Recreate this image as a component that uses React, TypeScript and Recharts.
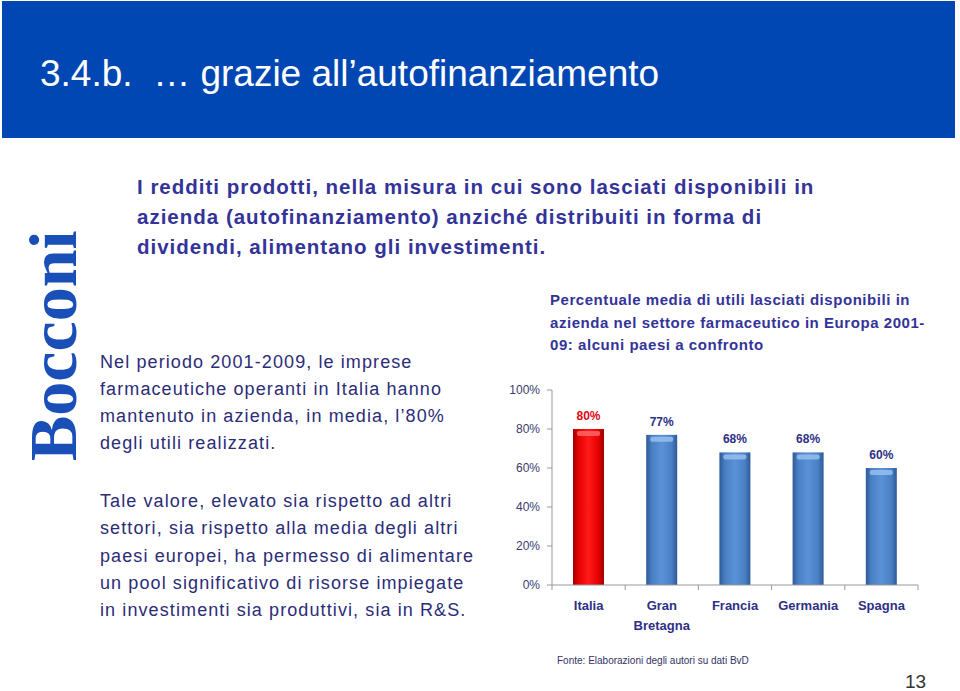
import { Bar, BarChart, Cell, LabelList, XAxis, YAxis } from "recharts";

const countries = ["Italia", "Gran Bretagna", "Francia", "Germania", "Spagna"];
const retained = [0.8, 0.77, 0.68, 0.68, 0.6];
const yTicks = [0, 0.2, 0.4, 0.6, 0.8, 1];

const data = countries.map((name, i) => ({ name, value: retained[i] }));

const NAVY = "#2e2f86";
const TEXT = "#2b2c78";
const CHART_W = 440;
const CHART_H = 270;
const MARGIN = { top: 20, right: 12, left: 0, bottom: 0 };
const Y_W = 62;
const BAND = (CHART_W - MARGIN.left - MARGIN.right - Y_W) / countries.length;

const pct = (v: number) => `${Math.round(v * 100)}%`;

function CountryTick(props: any) {
  const { x, y, payload, index } = props;
  const words: string[] = payload.value.split(" ");
  return (
    <g>
      <line x1={x + BAND / 2} x2={x + BAND / 2} y1={y - 8} y2={y - 3} stroke="#999" />
      {index === 0 && <line x1={x - BAND / 2} x2={x - BAND / 2} y1={y - 8} y2={y - 3} stroke="#999" />}
      <text x={x} y={y + 17} textAnchor="middle" fill={NAVY} fontSize={13} fontWeight="bold">
        {words.map((w, i) => (
          <tspan key={w} x={x} dy={i === 0 ? 0 : 20}>
            {w}
          </tspan>
        ))}
      </text>
    </g>
  );
}

function BevelBar(props: any) {
  const { x, y, width, height, index } = props;
  const grad = index === 0 ? "url(#barRed)" : "url(#barBlue)";
  const hi = index === 0 ? "#ff6b6b" : "#9cc3f0";
  return (
    <g>
      <rect x={x} y={y} width={width} height={height} fill={grad} />
      <rect x={x + 4} y={y + 2} width={width - 8} height={5} rx={2} fill={hi} opacity={0.8} />
    </g>
  );
}

function ValueLabel(props: any) {
  const { x, y, width, value, index } = props;
  return (
    <text
      x={x + width / 2}
      y={y - 9}
      textAnchor="middle"
      fill={index === 0 ? "#e30613" : NAVY}
      fontSize={12}
      fontWeight="bold"
    >
      {pct(value)}
    </text>
  );
}

export default function App() {
  return (
    <div
      style={{
        position: "absolute",
        left: 0,
        top: 0,
        width: 960,
        height: 691,
        background: "#fff",
        fontFamily: "'Liberation Sans', Arial, sans-serif",
        overflow: "hidden",
      }}
    >
      <div style={{ position: "absolute", left: 2, top: 1, width: 953, height: 137, background: "#0047b3" }} />
      <div style={{ position: "absolute", left: 40, top: 53, fontSize: 37, color: "#fff", whiteSpace: "nowrap" }}>
        3.4.b.&nbsp;&nbsp;… grazie all’autofinanziamento
      </div>

      <svg style={{ position: "absolute", left: 0, top: 0 }} width={100} height={691}>
        <text
          transform="translate(76 461) rotate(-90)"
          fontFamily="'Liberation Serif', 'DejaVu Serif', serif"
          fontWeight="bold"
          fontSize={68}
          fill="#1a4fb8"
        >
          Bocconi
        </text>
      </svg>

      <div
        style={{
          position: "absolute",
          left: 137,
          top: 172,
          fontSize: 20.5,
          letterSpacing: 1,
          lineHeight: "30px",
          fontWeight: "bold",
          color: "#333399",
          whiteSpace: "nowrap",
        }}
      >
        I redditi prodotti, nella misura in cui sono lasciati disponibili in
        <br />
        azienda (autofinanziamento) anziché distribuiti in forma di
        <br />
        dividendi, alimentano gli investimenti.
      </div>

      <div
        style={{
          position: "absolute",
          left: 100,
          top: 349,
          fontSize: 18,
          letterSpacing: 1.1,
          lineHeight: "27px",
          color: TEXT,
          whiteSpace: "nowrap",
        }}
      >
        Nel periodo 2001-2009, le imprese
        <br />
        farmaceutiche operanti in Italia hanno
        <br />
        mantenuto in azienda, in media, l’80%
        <br />
        degli utili realizzati.
      </div>

      <div
        style={{
          position: "absolute",
          left: 100,
          top: 488,
          fontSize: 18,
          letterSpacing: 1.1,
          lineHeight: "27.3px",
          color: TEXT,
          whiteSpace: "nowrap",
        }}
      >
        Tale valore, elevato sia rispetto ad altri
        <br />
        settori, sia rispetto alla media degli altri
        <br />
        paesi europei, ha permesso di alimentare
        <br />
        un pool significativo di risorse impiegate
        <br />
        in investimenti sia produttivi, sia in R&amp;S.
      </div>

      <div
        style={{
          position: "absolute",
          left: 550,
          top: 289,
          fontSize: 15,
          letterSpacing: 0.55,
          lineHeight: "22.5px",
          fontWeight: "bold",
          color: "#333399",
          whiteSpace: "nowrap",
        }}
      >
        Percentuale media di utili lasciati disponibili in
        <br />
        azienda nel settore farmaceutico in Europa 2001-
        <br />
        09: alcuni paesi a confronto
      </div>

      <div style={{ position: "absolute", left: 490, top: 370 }}>
        <BarChart width={CHART_W} height={CHART_H} data={data} margin={MARGIN}>
          <defs>
            <linearGradient id="barBlue" x1="0" y1="0" x2="1" y2="0">
              <stop offset="0%" stopColor="#2d5a96" />
              <stop offset="18%" stopColor="#4a7fc4" />
              <stop offset="50%" stopColor="#5a92d8" />
              <stop offset="82%" stopColor="#4a7fc4" />
              <stop offset="100%" stopColor="#2d5a96" />
            </linearGradient>
            <linearGradient id="barRed" x1="0" y1="0" x2="1" y2="0">
              <stop offset="0%" stopColor="#a00000" />
              <stop offset="18%" stopColor="#e60000" />
              <stop offset="50%" stopColor="#ff1a1a" />
              <stop offset="82%" stopColor="#e60000" />
              <stop offset="100%" stopColor="#a00000" />
            </linearGradient>
          </defs>
          <XAxis
            dataKey="name"
            height={55}
            interval={0}
            tickLine={false}
            axisLine={{ stroke: "#999" }}
            tick={<CountryTick />}
          />
          <YAxis
            width={Y_W}
            domain={[0, 1]}
            ticks={yTicks}
            tickFormatter={pct}
            tickSize={5}
            tickMargin={7}
            axisLine={{ stroke: "#999" }}
            tickLine={{ stroke: "#999" }}
            tick={{ fill: "#3b3b70", fontSize: 12 }}
          />
          <Bar dataKey="value" barSize={31} isAnimationActive={false} shape={<BevelBar />}>
            {data.map((d, i) => (
              <Cell key={d.name} fill={i === 0 ? "url(#barRed)" : "url(#barBlue)"} />
            ))}
            <LabelList dataKey="value" content={<ValueLabel />} />
          </Bar>
        </BarChart>
      </div>

      <div style={{ position: "absolute", left: 557, top: 655, fontSize: 10, color: "#333366", whiteSpace: "nowrap" }}>
        Fonte: Elaborazioni degli autori su dati BvD
      </div>
      <div style={{ position: "absolute", left: 905, top: 671, fontSize: 19, color: "#333", whiteSpace: "nowrap" }}>
        13
      </div>
    </div>
  );
}
